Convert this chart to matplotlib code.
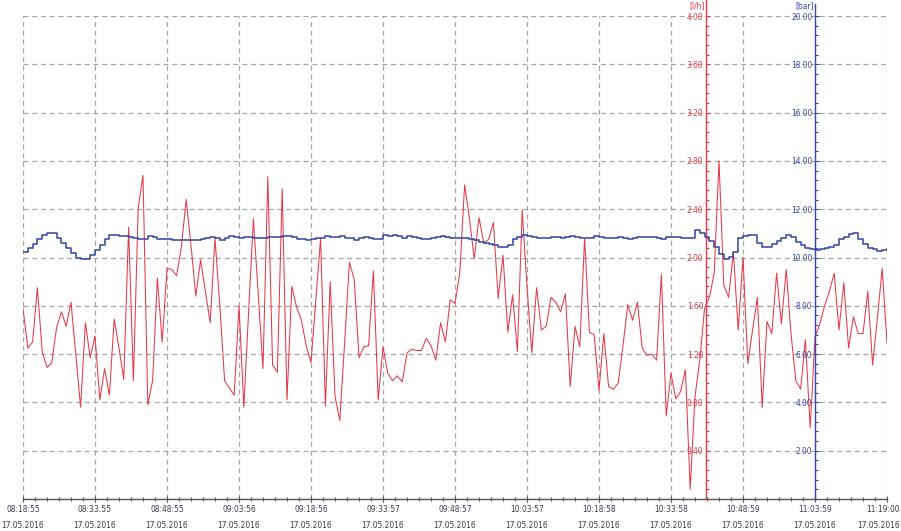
import numpy as np
import matplotlib
matplotlib.use("Agg")
import matplotlib.pyplot as plt
from matplotlib.ticker import FixedLocator, MultipleLocator
from matplotlib.transforms import offset_copy

# ---- data (one sample per minute, starting 08:18:55) ----
flow_lh = [
    1.58, 1.25, 1.30, 1.75, 1.22, 1.09, 1.13, 1.42, 1.55, 1.43,
    1.63, 1.19, 0.76, 1.46, 1.17, 1.35, 0.82, 1.08, 0.86, 1.49,
    1.25, 0.99, 2.25, 0.98, 2.41, 2.68, 0.78, 0.98, 1.83, 1.30,
    1.91, 1.90, 1.85, 2.09, 2.48, 2.10, 1.68, 1.98, 1.72, 1.46,
    2.16, 1.60, 0.98, 0.92, 0.86, 1.60, 0.76, 1.55, 2.32, 1.70,
    1.08, 2.67, 1.11, 1.05, 2.57, 0.82, 1.76, 1.59, 1.48, 1.27,
    1.13, 1.65, 2.16, 0.77, 1.80, 0.85, 0.65, 1.29, 1.96, 1.82,
    1.17, 1.26, 1.27, 1.89, 0.82, 1.26, 1.04, 0.98, 1.02, 0.97,
    1.21, 1.24, 1.23, 1.23, 1.33, 1.27, 1.15, 1.46, 1.30, 1.65,
    1.62, 1.87, 2.60, 2.33, 1.99, 2.33, 2.12, 2.15, 2.29, 1.66,
    2.02, 1.38, 1.69, 1.22, 2.39, 1.76, 1.21, 1.75, 1.40, 1.43,
    1.67, 1.63, 1.55, 1.70, 0.93, 1.43, 1.26, 2.16, 1.38, 1.36,
    0.90, 1.37, 0.93, 0.91, 0.96, 1.27, 1.61, 1.48, 1.63, 1.25,
    1.19, 1.20, 1.15, 1.86, 0.69, 1.04, 0.83, 0.89, 1.07, 0.08,
    0.85, 1.15, 1.58, 1.67, 1.87, 2.80, 1.77, 1.67, 2.04, 1.40,
    2.00, 1.12, 1.40, 1.67, 0.76, 1.47, 1.37, 1.87, 1.45, 1.90,
    1.37, 0.98, 0.91, 1.32, 0.59, 1.34, 1.45, 1.60, 1.72, 1.87,
    1.40, 1.79, 1.25, 1.51, 1.37, 1.37, 1.72, 1.11, 1.50, 1.91,
    1.29,
]

pressure_bar = [
    10.23, 10.38, 10.55, 10.75, 10.93, 11.03, 11.03, 10.81, 10.60, 10.39,
    10.20, 9.96, 9.94, 9.94, 10.12, 10.31, 10.52, 10.75, 10.93, 10.93,
    10.90, 10.87, 10.85, 10.81, 10.78, 10.78, 10.90, 10.83, 10.78, 10.76,
    10.75, 10.73, 10.72, 10.72, 10.72, 10.72, 10.72, 10.77, 10.81, 10.86,
    10.81, 10.72, 10.81, 10.88, 10.86, 10.79, 10.86, 10.85, 10.79, 10.79,
    10.81, 10.85, 10.85, 10.85, 10.87, 10.87, 10.85, 10.78, 10.75, 10.72,
    10.76, 10.79, 10.82, 10.87, 10.85, 10.83, 10.87, 10.82, 10.79, 10.72,
    10.82, 10.85, 10.80, 10.78, 10.76, 10.92, 10.90, 10.92, 10.89, 10.80,
    10.88, 10.85, 10.80, 10.78, 10.78, 10.81, 10.84, 10.88, 10.84, 10.81,
    10.81, 10.81, 10.81, 10.77, 10.72, 10.63, 10.58, 10.55, 10.50, 10.45,
    10.45, 10.52, 10.78, 10.86, 10.92, 10.88, 10.83, 10.81, 10.81, 10.79,
    10.83, 10.85, 10.80, 10.85, 10.87, 10.85, 10.82, 10.80, 10.82, 10.87,
    10.84, 10.80, 10.79, 10.80, 10.84, 10.82, 10.78, 10.80, 10.85, 10.85,
    10.85, 10.83, 10.80, 10.78, 10.83, 10.85, 10.83, 10.81, 10.81, 10.81,
    11.12, 11.00, 10.85, 10.68, 10.45, 10.15, 9.94, 10.02, 10.23, 10.81,
    10.88, 10.93, 10.95, 10.60, 10.45, 10.43, 10.55, 10.68, 10.79, 10.93,
    10.85, 10.65, 10.52, 10.40, 10.35, 10.31, 10.35, 10.40, 10.45, 10.52,
    10.75, 10.85, 10.98, 11.00, 10.78, 10.55, 10.40, 10.35, 10.28, 10.31,
    10.35,
]

time_labels = ["08:18:55", "08:33:55", "08:48:55", "09:03:56", "09:18:56",
               "09:33:57", "09:48:57", "10:03:57", "10:18:58", "10:33:58",
               "10:48:59", "11:03:59", "11:19:00"]
date_label = "17.05.2016"
tick_step_min = 15
flow_ticks = [0.4, 0.8, 1.2, 1.6, 2.0, 2.4, 2.8, 3.2, 3.6, 4.0]
pressure_ticks = [2, 4, 6, 8, 10, 12, 14, 16, 18, 20]
flow_unit = "[l/h]"
pressure_unit = "[bar]"
flow_axis_at = 142.3       # minutes from start
pressure_axis_at = 165.0   # minutes from start

RED = "#e6384a"
BLUE = "#3848a8"
GRID = "#a6a6a6"
TXT = "#3a3a55"
FONT = dict(family="DejaVu Sans", stretch="condensed")

t = np.arange(len(flow_lh)) * 1.0
t_end = (len(time_labels) - 1) * tick_step_min

fig = plt.figure(figsize=(9.01, 5.31), dpi=100)
fig.patch.set_facecolor("white")
ax = fig.add_axes([23 / 901, 32 / 531, 864 / 901, 483 / 531])
ax2 = ax.twinx()

ax.set_xlim(0, t_end)
ax.set_ylim(0, 4.0)
ax2.set_ylim(0, 20.0)

# grid
ax.xaxis.set_major_locator(FixedLocator(np.arange(len(time_labels)) * tick_step_min))
ax.xaxis.set_minor_locator(MultipleLocator(tick_step_min / 6))
ax.yaxis.set_major_locator(FixedLocator(flow_ticks))
ax.yaxis.set_minor_locator(MultipleLocator(0.08))
ax.grid(True, which="major", color=GRID, linestyle=(0, (4, 3)), linewidth=0.9)
ax.set_axisbelow(True)

# lines
ax.plot(t, flow_lh, color=RED, linewidth=0.75, zorder=3)
ax2.plot(t, pressure_bar, color=BLUE, linewidth=1.15, drawstyle="steps-post", zorder=3)

# x axis
ax.set_xticklabels([f"{lbl}\n{date_label}" for lbl in time_labels],
                   fontsize=6, color=TXT, linespacing=1.9, **FONT)
ax.tick_params(axis="x", which="major", direction="inout", length=5, width=0.8, color="#555555", pad=2)
ax.tick_params(axis="x", which="minor", direction="inout", length=3, width=0.8, color="#555555")
last = ax.get_xticklabels()[-1]
last.set_horizontalalignment("right")
last.set_transform(offset_copy(last.get_transform(), fig=fig, x=13, y=0, units="dots"))

for s in ["top", "right"]:
    ax.spines[s].set_visible(False)
    ax2.spines[s].set_visible(False)
ax.spines["bottom"].set_color("#555555")
ax.spines["bottom"].set_linewidth(1.0)
ax2.spines["bottom"].set_visible(False)

# red (flow) axis in the middle
ax.spines["left"].set_position(("data", flow_axis_at))
ax.spines["left"].set_color(RED)
ax.spines["left"].set_linewidth(1.0)
ax.spines["left"].set_zorder(4)
ax.set_yticklabels([f"{v:.2f}" for v in flow_ticks], fontsize=6, color=RED, **FONT)
ax.tick_params(axis="y", which="major", direction="in", length=3, width=0.8, color=RED, pad=2)
ax.tick_params(axis="y", which="minor", direction="in", length=2, width=0.8, color=RED)

# blue (pressure) axis
ax2.yaxis.set_ticks_position("left")
ax2.yaxis.set_label_position("left")
ax2.spines["left"].set_visible(True)
ax2.spines["left"].set_position(("data", pressure_axis_at))
ax2.spines["left"].set_color(BLUE)
ax2.spines["left"].set_linewidth(1.0)
ax2.yaxis.set_major_locator(FixedLocator(pressure_ticks))
ax2.yaxis.set_minor_locator(MultipleLocator(0.4))
ax2.set_yticklabels([f"{v:.2f}" for v in pressure_ticks], fontsize=6, color=BLUE, **FONT)
ax2.tick_params(axis="y", which="major", direction="in", length=3, width=0.8, color=BLUE,
                pad=2, labelleft=True, labelright=False, left=True, right=False)
ax2.tick_params(axis="y", which="minor", direction="in", length=2, width=0.8, color=BLUE,
                left=True, right=False)

# axis extensions above the plot and unit labels
xt = ax.get_xaxis_transform()
ax.plot([flow_axis_at, flow_axis_at], [1.0, 1.04], transform=xt, color=RED, lw=1.0, clip_on=False)
ax.plot([pressure_axis_at, pressure_axis_at], [1.0, 1.025], transform=xt, color=BLUE, lw=1.0, clip_on=False)
ax.text(flow_axis_at - 0.3, 1.012, flow_unit, transform=xt, ha="right", va="bottom",
        fontsize=6, color=RED, clip_on=False, **FONT)
ax.text(pressure_axis_at - 0.3, 1.012, pressure_unit, transform=xt, ha="right", va="bottom",
        fontsize=6, color=BLUE, clip_on=False, **FONT)

fig.savefig("out.png", dpi=100, facecolor="white")
